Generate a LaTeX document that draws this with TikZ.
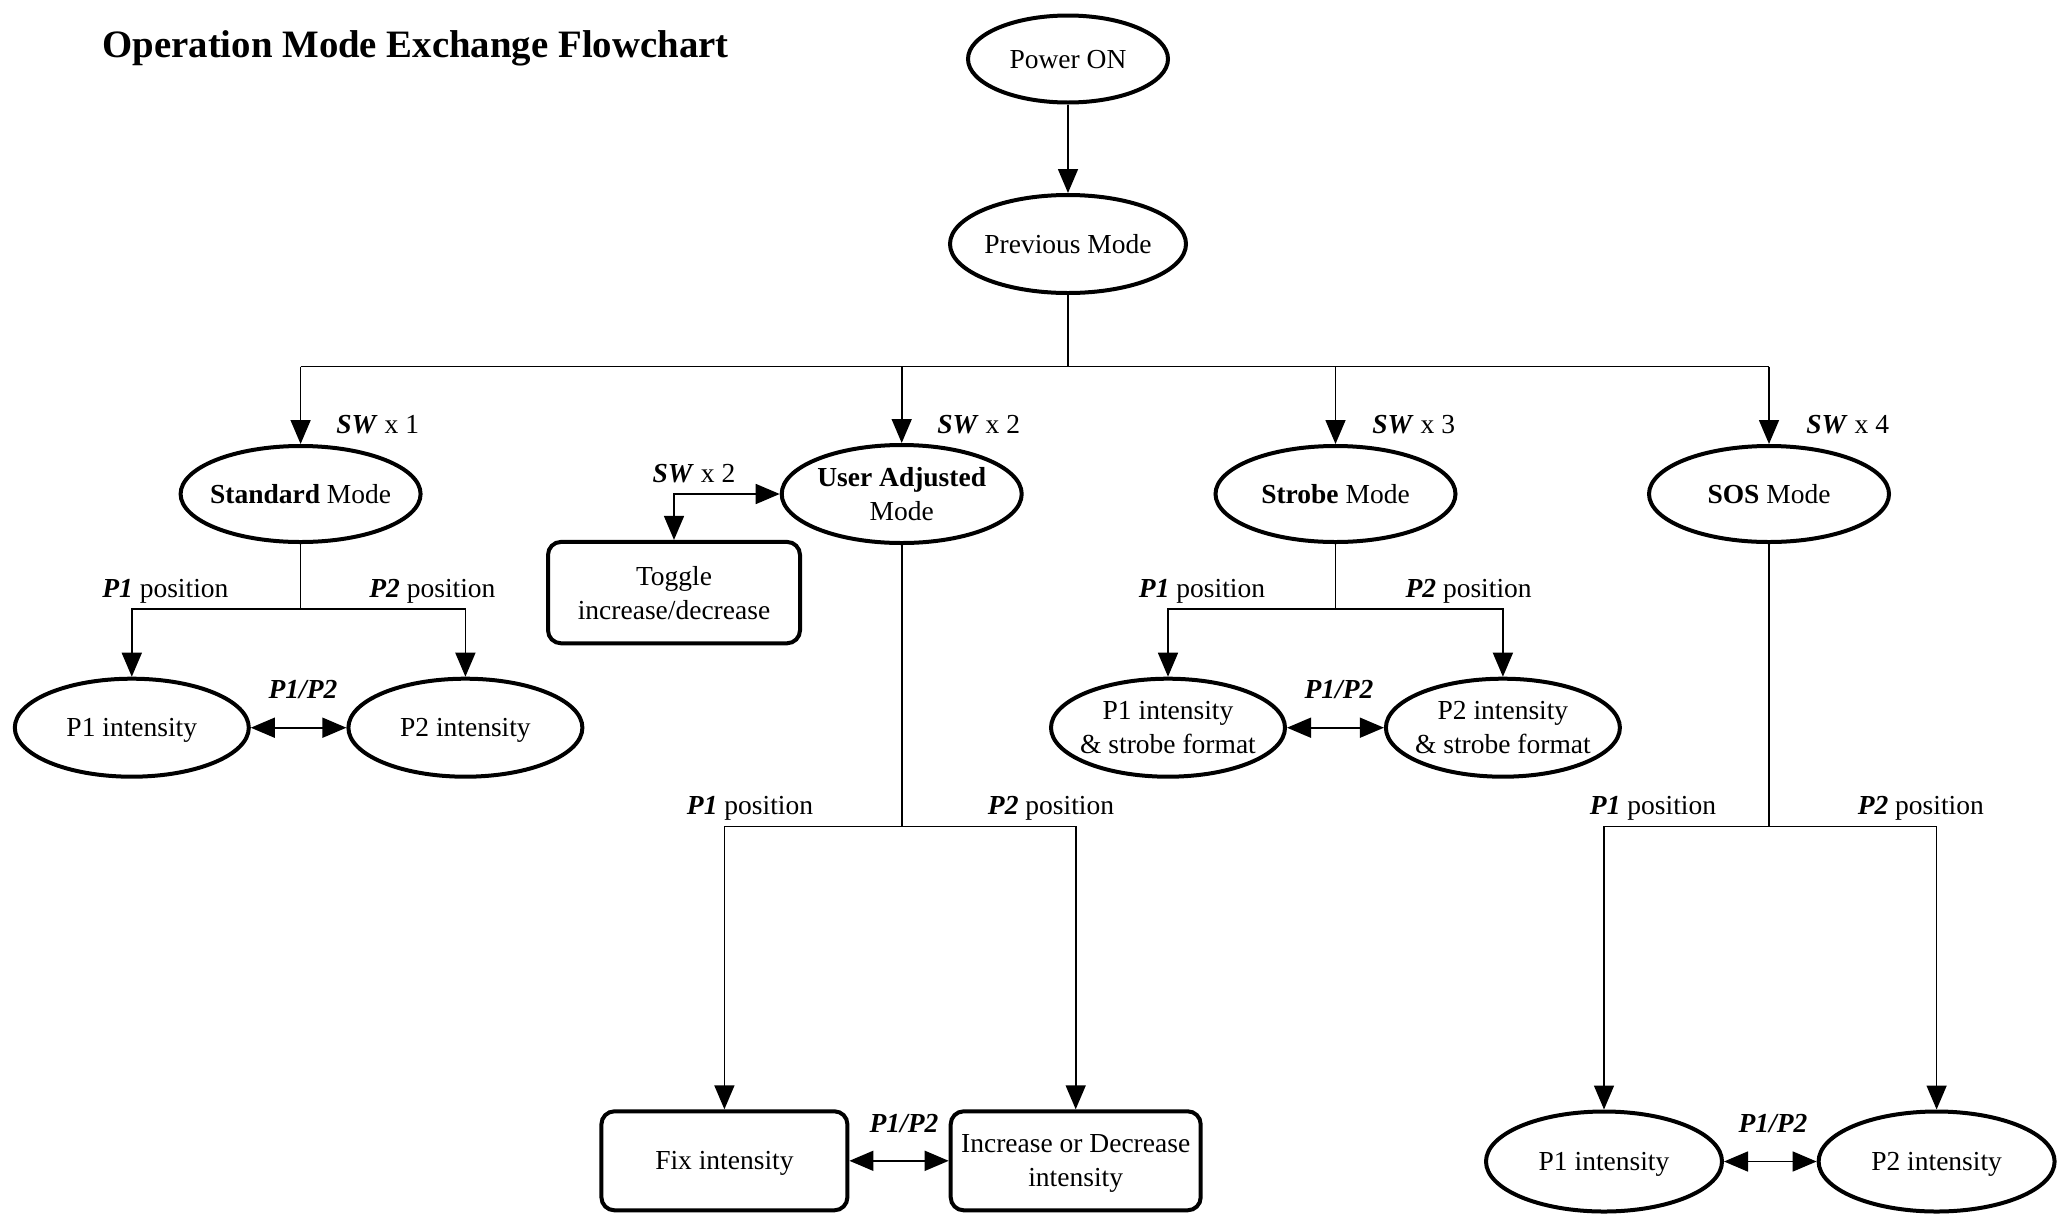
\documentclass[tikz,border=0pt]{standalone}
\usepackage{fontspec}
\setmainfont{Liberation Serif}
\usetikzlibrary{arrows.meta,shapes.geometric}
\newcommand{\bi}[1]{\textbf{\textit{#1}}}
\begin{document}
\begin{tikzpicture}[x=0.5pt,y=-0.5pt,
  every node/.style={font=\fontsize{13.75}{17}\selectfont},
  ell/.style={draw,ellipse,line width=2pt,inner sep=-12pt,align=center,text depth=0pt},
  rbox/.style={draw,rectangle,rounded corners=6.5pt,line width=2pt,align=center,inner sep=0pt,text depth=0pt},
  conn/.style={line width=0.8pt},
  arr/.style={conn,-{Triangle[length=12pt,width=10pt]}},
  darr/.style={conn,{Triangle[length=12pt,width=10pt]}-{Triangle[length=12pt,width=10pt]}},
  lbl/.style={inner sep=0pt,yshift=-1.5pt}
]
\useasboundingbox (0,0) rectangle (2067,1216);
\node[lbl,anchor=west,font=\fontsize{19.4}{23}\selectfont\bfseries] (title) at (102,45) {Operation Mode Exchange Flowchart};

\node[ell,minimum width=100pt,minimum height=43.5pt] (pon) at (1068,59) {Power ON};
\node[ell,minimum width=118pt,minimum height=49pt] (prev) at (1068,244) {Previous Mode};

\node[ell,minimum width=120pt,minimum height=48pt] (std) at (300.6,494) {\textbf{Standard} Mode};
\node[ell,minimum width=120pt,minimum height=49pt] (ua) at (901.7,494) {\textbf{User Adjusted}\\Mode};
\node[ell,minimum width=120pt,minimum height=48pt] (stb) at (1335.5,494) {\textbf{Strobe} Mode};
\node[ell,minimum width=120pt,minimum height=48pt] (sos) at (1769,494) {\textbf{SOS} Mode};

\node[ell,minimum width=117pt,minimum height=49pt] (sp1) at (131.8,727.7) {P1 intensity};
\node[ell,minimum width=117pt,minimum height=49pt] (sp2) at (465.4,727.7) {P2 intensity};
\node[ell,minimum width=117pt,minimum height=49pt] (st1) at (1168,727.7) {P1 intensity\\\& strobe format};
\node[ell,minimum width=117pt,minimum height=49pt] (st2) at (1502.9,727.7) {P2 intensity\\\& strobe format};
\node[ell,minimum width=118pt,minimum height=50pt] (so1) at (1604,1161.5) {P1 intensity};
\node[ell,minimum width=118pt,minimum height=50pt] (so2) at (1936.6,1161.5) {P2 intensity};

\node[rbox,minimum width=126pt,minimum height=50.7pt] (tog) at (674,592.6) {Toggle\\increase/decrease};
\node[rbox,minimum width=123pt,minimum height=49.5pt] (fix) at (724.4,1160.8) {Fix intensity};
\node[rbox,minimum width=125pt,minimum height=49.5pt] (inc) at (1075.7,1160.8) {Increase or Decrease\\intensity};

% top connectors
\draw[arr] (pon) -- (prev);
\coordinate (jtop) at (1068,366.5);
\draw[conn] (prev) -- (jtop);
\draw[conn] (std.north |- jtop) -- (sos.north |- jtop);
\draw[arr] (std.north |- jtop) -- (std);
\draw[arr] (ua.north |- jtop) -- (ua);
\draw[arr] (stb.north |- jtop) -- (stb);
\draw[arr] (sos.north |- jtop) -- (sos);

% standard branch
\coordinate (js) at (300.6,609);
\draw[conn] (std) -- (js);
\draw[arr] (js) -| (sp1);
\draw[arr] (js) -| (sp2);
\draw[darr] (sp1) -- (sp2);

% strobe branch
\coordinate (jst) at (1335.5,609);
\draw[conn] (stb) -- (jst);
\draw[arr] (jst) -| (st1);
\draw[arr] (jst) -| (st2);
\draw[darr] (st1) -- (st2);

% user adjusted branch
\draw[darr] (tog.north) |- (ua.west);
\coordinate (ju) at (901.7,826.6);
\draw[conn] (ua) -- (ju);
\draw[arr] (ju) -| (fix);
\draw[arr] (ju) -| (inc);
\draw[darr] (fix) -- (inc);

% sos branch
\coordinate (jso) at (1769,826.6);
\draw[conn] (sos) -- (jso);
\draw[arr] (jso) -| (so1);
\draw[arr] (jso) -| (so2);
\draw[darr] (so1) -- (so2);

% labels
\node[lbl,anchor=west] (sw1) at (336,422) {\bi{SW} x 1};
\node[lbl,anchor=west] (sw2) at (937,422) {\bi{SW} x 2};
\node[lbl,anchor=west] (sw3) at (1372,422) {\bi{SW} x 3};
\node[lbl,anchor=west] (sw4) at (1806,422) {\bi{SW} x 4};
\node[lbl] (swt) at (694,470.6) {\bi{SW} x 2};

\node[lbl] (l1) at (165.4,588) {\bi{P1} position};
\node[lbl] (l2) at (432.4,588) {\bi{P2} position};
\node[lbl] (l3) at (1202,588) {\bi{P1} position};
\node[lbl] (l4) at (1468.6,588) {\bi{P2} position};
\node[lbl] (l5) at (750,805.5) {\bi{P1} position};
\node[lbl] (l6) at (1051,805.5) {\bi{P2} position};
\node[lbl] (l7) at (1653,805.5) {\bi{P1} position};
\node[lbl] (l8) at (1920.8,805.5) {\bi{P2} position};

\node[lbl] (pp1) at (303,686.8) {\bi{P1/P2}};
\node[lbl] (pp2) at (1339,686.8) {\bi{P1/P2}};
\node[lbl] (pp3) at (904,1120.6) {\bi{P1/P2}};
\node[lbl] (pp4) at (1773,1120.6) {\bi{P1/P2}};
\end{tikzpicture}
\end{document}
